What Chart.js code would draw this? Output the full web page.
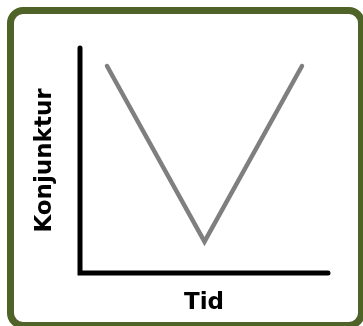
<!DOCTYPE html>
<html>
<head>
<meta charset="utf-8">
<script src="https://cdn.jsdelivr.net/npm/chart.js@4"></script>
<style>
  html, body { margin: 0; padding: 0; background: #fff; overflow: hidden; }
  #frame {
    position: absolute; left: 7px; top: 7px;
    width: 358px; height: 322px; box-sizing: border-box;
    border: 7px solid #4F6228; border-radius: 16px; background: #fff;
  }
  #wrap { position: absolute; left: 0; top: 0; width: 363px; height: 326px; }
</style>
</head>
<body>
<div id="frame"></div>
<div id="wrap"><canvas id="chart"></canvas></div>
<script>
// time steps and business-cycle level (schematic V)
const tid = [0, 1, 2];
const konjunktur = [9.2, 1.4, 9.2];
const xTitle = "Tid";
const yTitle = "Konjunktur";

// draws the two black axes with round ends
const axisLines = {
  id: "axisLines",
  beforeDatasetsDraw(chart) {
    const { ctx, chartArea: a } = chart;
    ctx.save();
    ctx.strokeStyle = "#000";
    ctx.lineWidth = 5;
    ctx.lineCap = "round";
    ctx.beginPath();
    ctx.moveTo(a.left, a.top);
    ctx.lineTo(a.left, a.bottom);
    ctx.lineTo(a.right, a.bottom);
    ctx.stroke();
    ctx.restore();
  },
};

const titleFont = { family: "DejaVu Sans", weight: "bold", size: 23 };

new Chart(document.querySelector("#chart"), {
  type: "line",
  data: {
    datasets: [
      {
        data: tid.map((t, i) => ({ x: t, y: konjunktur[i] })),
        borderColor: "#7F7F7F",
        borderWidth: 4.5,
        borderCapStyle: "round",
        borderJoinStyle: "miter",
        pointRadius: 0,
        tension: 0,
        fill: false,
      },
    ],
  },
  options: {
    responsive: true,
    maintainAspectRatio: false,
    animation: false,
    layout: { padding: { left: 20, top: 48, right: 35, bottom: 0 } },
    plugins: { legend: { display: false }, tooltip: { enabled: false } },
    scales: {
      x: {
        type: "linear",
        min: -0.277,
        max: 2.267,
        grid: { display: false, drawTicks: false },
        border: { display: false },
        ticks: { display: false },
        title: {
          display: true,
          text: xTitle,
          color: "#000",
          font: titleFont,
          padding: { top: 16, bottom: 9.4 },
        },
      },
      y: {
        min: 0,
        max: 10,
        grid: { display: false, drawTicks: false },
        border: { display: false },
        ticks: { display: false },
        title: {
          display: true,
          text: yTitle,
          color: "#000",
          font: titleFont,
          padding: { top: 11.5, bottom: 20.9 },
        },
      },
    },
  },
  plugins: [axisLines],
});
</script>
</body>
</html>
